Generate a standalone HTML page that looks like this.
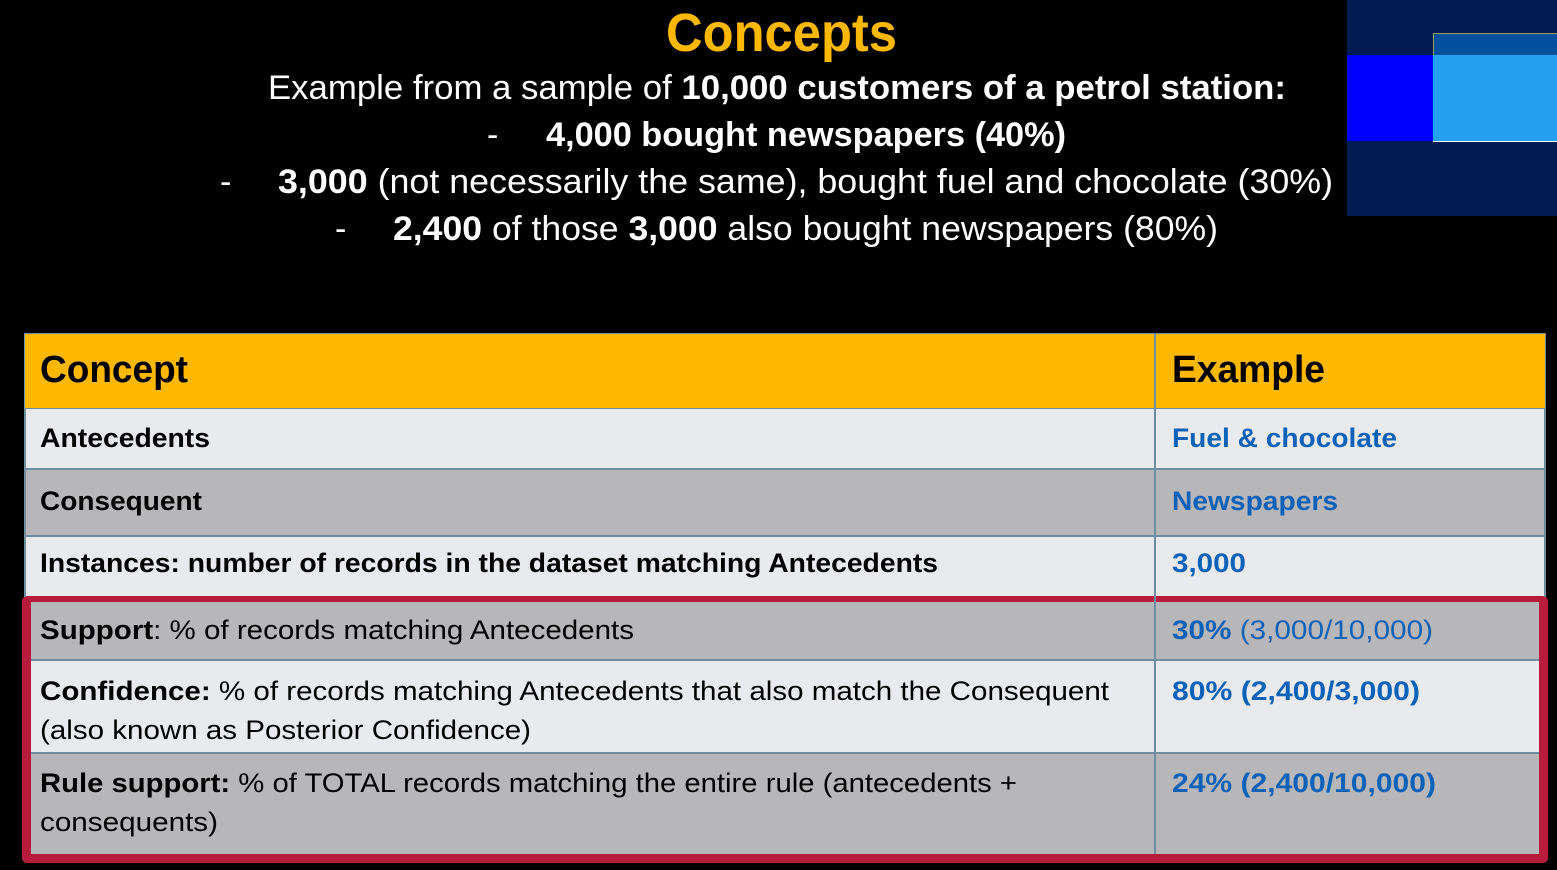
<!DOCTYPE html>
<html><head><meta charset="utf-8">
<style>
body{margin:0;width:1557px;height:870px;background:#000;position:relative;overflow:hidden;font-family:"Liberation Sans",sans-serif}
.a{position:absolute;white-space:nowrap}
.t{position:absolute;white-space:nowrap;transform-origin:0 50%;line-height:1}
.w{color:#fff;font-size:34px}
.k{color:#000;font-size:27px}
.bl{color:#0B62B8;font-size:27px;font-weight:bold}
.n{font-weight:normal}
b{font-weight:bold}
</style></head><body>
<div class="a" style="left:1347px;top:0;width:210px;height:216px;background:#021A52"></div>
<div class="a" style="left:1433px;top:33px;width:124px;height:22px;background:#00509E;border-top:1px solid #9a9a50;border-left:1px solid #9a9a50"></div>
<div class="a" style="left:1347px;top:55px;width:86px;height:86px;background:#0000FF"></div>
<div class="a" style="left:1433px;top:55px;width:124px;height:86px;background:#23A0F0;border-bottom:1px solid #fff"></div>

<div class="t" data-fit="231" style="left:666px;top:6px;font-size:54px;font-weight:bold;color:#FFB800">Concepts</div>
<div class="t w" data-fit="1018" style="left:268px;top:71px">Example from a sample of <b>10,000 customers of a petrol station:</b></div>
<div class="t w" style="left:487px;top:118px">-</div>
<div class="t w" data-fit="520" style="left:546px;top:118px"><b>4,000 bought newspapers (40%)</b></div>
<div class="t w" style="left:220px;top:165px">-</div>
<div class="t w" data-fit="1055" style="left:278px;top:165px"><b>3,000</b> (not necessarily the same), bought fuel and chocolate (30%)</div>
<div class="t w" style="left:335px;top:212px">-</div>
<div class="t w" data-fit="825" style="left:393px;top:212px"><b>2,400</b> of those <b>3,000</b> also bought newspapers (80%)</div>

<div>
<div class="a" style="left:24px;top:333px;width:1522px;height:76px;background:#FFB800;border:1px solid #6E8FA0;box-sizing:border-box"></div>
<div class="a" style="left:24px;top:409px;width:1522px;height:61px;background:#E9EAEE;border-bottom:2px solid #6E8FA0;box-sizing:border-box"></div>
<div class="a" style="left:24px;top:470px;width:1522px;height:67px;background:#B7B6B8;border-bottom:2px solid #6E8FA0;box-sizing:border-box"></div>
<div class="a" style="left:24px;top:537px;width:1522px;height:60px;background:#E9EAEE"></div>
<div class="a" style="left:22px;top:596px;width:1526px;height:267px;background:#B81C3C;border-radius:5px"></div>
<div class="a" style="left:31px;top:602px;width:1508px;height:59px;background:#B7B6B8;border-bottom:2px solid #6E8FA0;box-sizing:border-box"></div>
<div class="a" style="left:31px;top:661px;width:1508px;height:93px;background:#E9EAEE;border-bottom:2px solid #6E8FA0;box-sizing:border-box"></div>
<div class="a" style="left:31px;top:754px;width:1508px;height:100px;background:#B7B6B8"></div>
<div class="a" style="left:1154px;top:333px;width:2px;height:521px;background:#6E8FA0"></div>
<div class="a" style="left:24px;top:409px;width:2px;height:188px;background:#6E8FA0"></div>
<div class="a" style="left:1544px;top:409px;width:2px;height:188px;background:#6E8FA0"></div>

<div class="t" data-fit="148" style="left:40px;top:351px;font-size:38px;font-weight:bold;color:#000">Concept</div>
<div class="t" data-fit="153" style="left:1172px;top:351px;font-size:38px;font-weight:bold;color:#000">Example</div>

<div class="t k" data-fit="170" style="left:40px;top:425px"><b>Antecedents</b></div>
<div class="t bl" data-fit="225" style="left:1172px;top:425px">Fuel &amp; chocolate</div>
<div class="t k" data-fit="162" style="left:40px;top:488px"><b>Consequent</b></div>
<div class="t bl" data-fit="166" style="left:1172px;top:488px">Newspapers</div>
<div class="t k" data-fit="898" style="left:40px;top:550px"><b>Instances: number of records in the dataset matching Antecedents</b></div>
<div class="t bl" data-fit="74" style="left:1172px;top:550px">3,000</div>
<div class="t k" data-fit="594" style="left:40px;top:617px"><b>Support</b>: % of records matching Antecedents</div>
<div class="t bl" data-fit="261" style="left:1172px;top:617px">30% <span class="n">(3,000/10,000)</span></div>
<div class="t k" data-fit="1069" style="left:40px;top:678px"><b>Confidence:</b> % of records matching Antecedents that also match the Consequent</div>
<div class="t k" data-fit="491" style="left:40px;top:717px">(also known as Posterior Confidence)</div>
<div class="t bl" data-fit="248" style="left:1172px;top:678px">80% (2,400/3,000)</div>
<div class="t k" data-fit="977" style="left:40px;top:770px"><b>Rule support:</b> % of TOTAL records matching the entire rule (antecedents +</div>
<div class="t k" data-fit="178" style="left:40px;top:809px">consequents)</div>
<div class="t bl" data-fit="264" style="left:1172px;top:770px">24% (2,400/10,000)</div>
</div>
<script>
document.querySelectorAll('[data-fit]').forEach(function(e){
  var w=e.getBoundingClientRect().width, t=+e.getAttribute('data-fit');
  if(w>0) e.style.transform='scaleX('+(t/w)+')';
});
</script>
</body></html>
